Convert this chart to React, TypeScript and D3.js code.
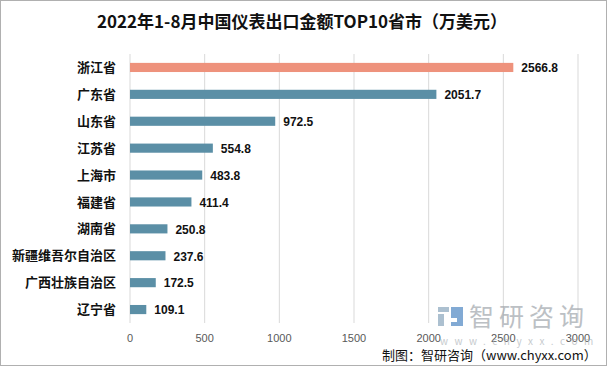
import * as d3 from "d3";

const provinces = [
  "浙江省",
  "广东省",
  "山东省",
  "江苏省",
  "上海市",
  "福建省",
  "湖南省",
  "新疆维吾尔自治区",
  "广西壮族自治区",
  "辽宁省",
];
const values = [2566.8, 2051.7, 972.5, 554.8, 483.8, 411.4, 250.8, 237.6, 172.5, 109.1];
const ticks = [0, 500, 1000, 1500, 2000, 2500, 3000];

const W = 609;
const H = 368;
const CJK = "'Noto Sans CJK SC', 'Microsoft YaHei', sans-serif";

export default function App() {
  const x = d3.scaleLinear().domain([0, 3000]).range([130, 578]);
  const y = d3.scaleBand<string>().domain(provinces).range([54, 323]).paddingInner(0.66).paddingOuter(0.33);

  return (
    <svg
      width={W}
      height={H}
      style={{ position: "absolute", left: 0, top: 0, background: "#fff" }}
    >
      <rect x={0.5} y={0.5} width={W - 3} height={H - 3} fill="#fff" stroke="#b0b0b0" />
      <text
        x={302}
        y={28}
        textAnchor="middle"
        fontFamily={CJK}
        fontWeight="bold"
        fontSize={17}
        fill="#111"
      >
        2022年1-8月中国仪表出口金额TOP10省市（万美元）
      </text>

      {ticks.map((t) => (
        <g key={t}>
          <line x1={x(t)} x2={x(t)} y1={54} y2={323} stroke="#d9d9d9" strokeWidth={1} />
          <text
            x={x(t)}
            y={342}
            textAnchor="middle"
            fontFamily="'Liberation Sans', Arial, sans-serif"
            fontSize={11}
            fill="#595959"
          >
            {t}
          </text>
        </g>
      ))}

      {/* watermark */}
      <g opacity={0.7}>
        <rect x={438} y={307} width={11} height={5} fill="#8aa6bd" />
        <rect x={438} y={314} width={6} height={12} fill="#8aa6bd" />
        <rect x={451} y={307} width={12} height={19} fill="#4e87c2" />
        <rect x={446} y={318} width={11} height={4} fill="#fff" />
        <text x={469} y={326} fontFamily={CJK} fontSize={25} fill="#a0a6ac" letterSpacing={5}>
          智研咨询
        </text>
        <text x={440} y={345} fontFamily={CJK} fontSize={10} fill="#b0b5ba" letterSpacing={6.5}>
          www.chyxx.com
        </text>
      </g>

      {provinces.map((p, i) => {
        const by = y(p) ?? 0;
        const bh = y.bandwidth();
        return (
          <g key={p}>
            <rect
              x={x(0)}
              y={by}
              width={x(values[i]) - x(0)}
              height={bh}
              fill={i === 0 ? "#ee927c" : "#5b8fa6"}
            />
            <text
              x={116}
              y={by + bh / 2}
              dy="0.35em"
              textAnchor="end"
              fontFamily={CJK}
              fontWeight="bold"
              fontSize={13}
              fill="#111"
            >
              {p}
            </text>
            <text
              x={x(values[i]) + 8}
              y={by + bh / 2}
              dy="0.4em"
              fontFamily="'Liberation Sans', Arial, sans-serif"
              fontWeight="bold"
              fontSize={12}
              fill="#111"
            >
              {values[i].toFixed(1)}
            </text>
          </g>
        );
      })}

      <text x={382} y={360} fontFamily={CJK} fontSize={13} fill="#111">
        制图：智研咨询（www.chyxx.com）
      </text>
    </svg>
  );
}
